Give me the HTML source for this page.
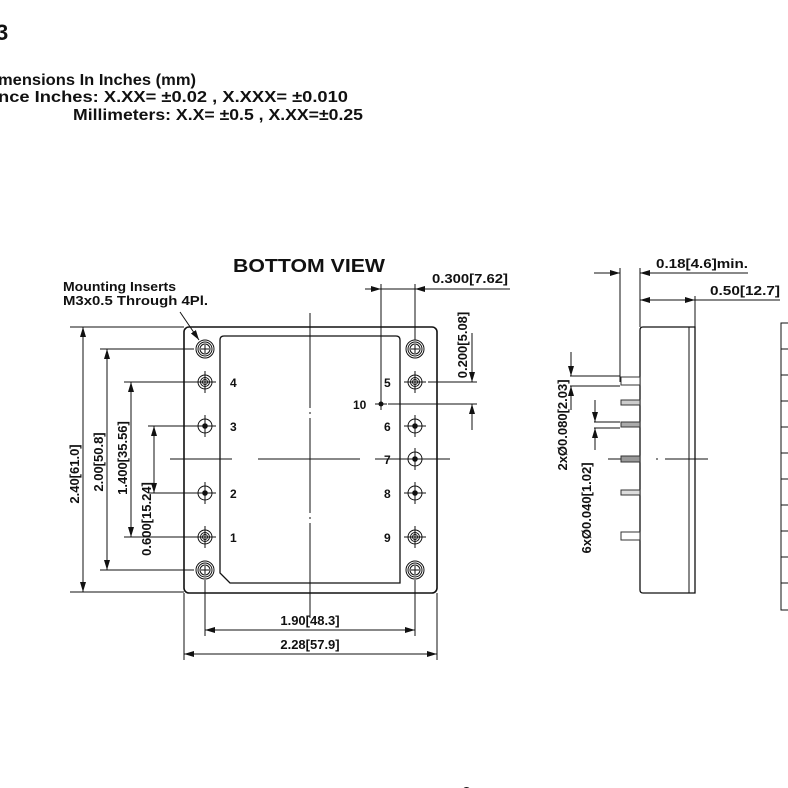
<!DOCTYPE html>
<html><head><meta charset="utf-8"><style>
html,body{margin:0;padding:0;background:#fff;width:788px;height:788px;overflow:hidden}
svg{display:block}
text{font-family:"Liberation Sans",Arial,sans-serif;font-weight:bold;fill:#111}
</style></head><body>
<svg width="788" height="788" viewBox="0 0 788 788" xmlns="http://www.w3.org/2000/svg">
<defs>
<marker id="a" viewBox="0 0 10 6" refX="10" refY="3" markerWidth="10" markerHeight="6" markerUnits="userSpaceOnUse" orient="auto-start-reverse"><path d="M0,0 L10,3 L0,6 z" fill="#111"/></marker>
<g id="ins" stroke="#111" fill="none" stroke-width="1"><circle r="9"/><circle r="7"/><circle r="5"/><line x1="-4" y1="0" x2="4" y2="0"/><line x1="0" y1="-4" x2="0" y2="4"/></g>
<g id="big" stroke="#111" fill="none" stroke-width="1"><circle r="7"/><circle r="4.5"/><circle r="2.5"/><line x1="-11" y1="0" x2="11" y2="0"/><line x1="0" y1="-11" x2="0" y2="11"/></g>
<g id="sm" stroke="#111" fill="none" stroke-width="1"><circle r="7"/><circle r="2.3" fill="#111"/><line x1="-11" y1="0" x2="11" y2="0"/><line x1="0" y1="-11" x2="0" y2="11"/></g>
</defs>
<text x="-4" y="40" font-size="22">3</text>
<text x="-2" y="85" font-size="16" textLength="198" lengthAdjust="spacingAndGlyphs">mensions In Inches (mm)</text>
<text x="-2" y="102" font-size="16" textLength="350" lengthAdjust="spacingAndGlyphs">nce  Inches: X.XX= ±0.02 , X.XXX= ±0.010</text>
<text x="73" y="120" font-size="16" textLength="290" lengthAdjust="spacingAndGlyphs">Millimeters: X.X= ±0.5 , X.XX=±0.25</text>

<text x="233" y="272" font-size="18" textLength="152" lengthAdjust="spacingAndGlyphs">BOTTOM VIEW</text>
<text x="63" y="291" font-size="13" textLength="113" lengthAdjust="spacingAndGlyphs">Mounting Inserts</text>
<text x="63" y="305" font-size="13" textLength="145" lengthAdjust="spacingAndGlyphs">M3x0.5 Through 4Pl.</text>
<line x1="180" y1="312" x2="199" y2="340" stroke="#111" stroke-width="1" marker-end="url(#a)"/>

<g stroke="#111" fill="none" stroke-width="1">
<rect x="184" y="327" width="253" height="266" rx="5" stroke-width="1.6"/>
<path d="M224,336 H396 Q400,336 400,340 V583 H230 L220,573 V340 Q220,336 224,336 Z" stroke-width="1.3"/>
<line x1="310" y1="313" x2="310" y2="620" stroke-dasharray="95,4,2,4"/>
<line x1="170" y1="459" x2="232" y2="459"/><line x1="258" y1="459" x2="360" y2="459"/><line x1="375" y1="459" x2="450" y2="459"/>
<line x1="70" y1="327" x2="184" y2="327"/>
<line x1="70" y1="592" x2="184" y2="592"/>
<line x1="100" y1="349" x2="194" y2="349"/>
<line x1="100" y1="570" x2="194" y2="570"/>
<line x1="124" y1="382" x2="194" y2="382"/>
<line x1="124" y1="537" x2="194" y2="537"/>
<line x1="148" y1="426" x2="194" y2="426"/>
<line x1="148" y1="493" x2="194" y2="493"/>
<line x1="83" y1="327" x2="83" y2="592" marker-start="url(#a)" marker-end="url(#a)"/>
<line x1="107" y1="349" x2="107" y2="570" marker-start="url(#a)" marker-end="url(#a)"/>
<line x1="131" y1="382" x2="131" y2="537" marker-start="url(#a)" marker-end="url(#a)"/>
<line x1="154" y1="426" x2="154" y2="493" marker-start="url(#a)" marker-end="url(#a)"/>
<line x1="205" y1="580" x2="205" y2="636"/>
<line x1="415" y1="580" x2="415" y2="636"/>
<line x1="184" y1="593" x2="184" y2="660"/>
<line x1="437" y1="593" x2="437" y2="660"/>
<line x1="205" y1="630" x2="415" y2="630" marker-start="url(#a)" marker-end="url(#a)"/>
<line x1="184" y1="654" x2="437" y2="654" marker-start="url(#a)" marker-end="url(#a)"/>
<line x1="381" y1="284" x2="381" y2="410"/>
<line x1="415" y1="284" x2="415" y2="340"/>
<line x1="365" y1="289" x2="381" y2="289" marker-end="url(#a)"/>
<line x1="431" y1="289" x2="415" y2="289" marker-end="url(#a)"/>
<line x1="381" y1="289" x2="510" y2="289"/>
<line x1="428" y1="382" x2="477" y2="382"/>
<line x1="388" y1="404" x2="477" y2="404"/>
<line x1="472" y1="333" x2="472" y2="382" marker-end="url(#a)"/>
<line x1="472" y1="430" x2="472" y2="404" marker-end="url(#a)"/>
</g>

<use href="#ins" x="205" y="349"/><use href="#ins" x="205" y="570"/>
<use href="#ins" x="415" y="349"/><use href="#ins" x="415" y="570"/>
<use href="#big" x="205" y="382"/><use href="#big" x="205" y="537"/>
<use href="#big" x="415" y="382"/><use href="#big" x="415" y="537"/>
<use href="#sm" x="205" y="426"/><use href="#sm" x="205" y="493"/>
<use href="#sm" x="415" y="426"/><use href="#sm" x="415" y="459"/><use href="#sm" x="415" y="493"/>
<circle cx="381" cy="404" r="2.5" fill="#111"/><line x1="375" y1="404" x2="387" y2="404" stroke="#111"/>

<g font-size="12">
<text x="230" y="387">4</text><text x="230" y="431">3</text><text x="230" y="498">2</text><text x="230" y="542">1</text>
<text x="384" y="387">5</text><text x="384" y="431">6</text><text x="384" y="464">7</text><text x="384" y="498">8</text><text x="384" y="542">9</text>
<text x="353" y="409">10</text>
</g>
<g font-size="13">
<text x="310" y="625" text-anchor="middle">1.90[48.3]</text>
<text x="310" y="649" text-anchor="middle">2.28[57.9]</text>
<text x="432" y="283" textLength="76" lengthAdjust="spacingAndGlyphs">0.300[7.62]</text>
<text transform="translate(467,345) rotate(-90)" text-anchor="middle">0.200[5.08]</text>
<text transform="translate(79,474) rotate(-90)" text-anchor="middle">2.40[61.0]</text>
<text transform="translate(103,462) rotate(-90)" text-anchor="middle">2.00[50.8]</text>
<text transform="translate(127,458) rotate(-90)" text-anchor="middle">1.400[35.56]</text>
<text transform="translate(151,519) rotate(-90)" text-anchor="middle">0.600[15.24]</text>
</g>

<g stroke="#111" fill="none" stroke-width="1">
<path d="M643,327 H695 V593 H643 Q640,593 640,590 V330 Q640,327 643,327 Z" stroke-width="1.3"/>
<line x1="689" y1="327" x2="689" y2="593"/>
<line x1="640" y1="268" x2="640" y2="327"/>
<line x1="695" y1="296" x2="695" y2="327"/>
<line x1="620" y1="268" x2="620" y2="382"/>
<line x1="594" y1="273" x2="620" y2="273" marker-end="url(#a)"/>
<line x1="660" y1="273" x2="640" y2="273" marker-end="url(#a)"/>
<line x1="640" y1="273" x2="748" y2="273"/>
<line x1="640" y1="300" x2="695" y2="300" marker-start="url(#a)" marker-end="url(#a)"/>
<line x1="695" y1="300" x2="780" y2="300"/>
<line x1="608" y1="459" x2="630" y2="459"/><line x1="656" y1="459" x2="658" y2="459"/><line x1="665" y1="459" x2="708" y2="459"/>
<line x1="570" y1="376" x2="620" y2="376"/><line x1="570" y1="386" x2="620" y2="386"/>
<line x1="571" y1="352" x2="571" y2="376" marker-end="url(#a)"/>
<line x1="571" y1="410" x2="571" y2="386" marker-end="url(#a)"/>
<line x1="594" y1="422" x2="620" y2="422"/><line x1="594" y1="428" x2="620" y2="428"/>
<line x1="595" y1="400" x2="595" y2="422" marker-end="url(#a)"/>
<line x1="595" y1="450" x2="595" y2="428" marker-end="url(#a)"/>
<path d="M788,323 H781 V610 H788"/>
<line x1="781" y1="349" x2="788" y2="349"/><line x1="781" y1="375" x2="788" y2="375"/><line x1="781" y1="401" x2="788" y2="401"/><line x1="781" y1="427" x2="788" y2="427"/><line x1="781" y1="453" x2="788" y2="453"/><line x1="781" y1="479" x2="788" y2="479"/><line x1="781" y1="505" x2="788" y2="505"/><line x1="781" y1="531" x2="788" y2="531"/><line x1="781" y1="557" x2="788" y2="557"/><line x1="781" y1="583" x2="788" y2="583"/>
</g>
<g fill="#fff" stroke="#333" stroke-width="1">
<rect x="621" y="377" width="19" height="8"/>
<rect x="621" y="400" width="19" height="5" fill="#ccc"/>
<rect x="621" y="422" width="19" height="5" fill="#aaa"/>
<rect x="621" y="456" width="19" height="6" fill="#999"/>
<rect x="621" y="490" width="19" height="5" fill="#ddd"/>
<rect x="621" y="532" width="19" height="8"/>
</g>
<g font-size="13">
<text x="656" y="268" textLength="92" lengthAdjust="spacingAndGlyphs">0.18[4.6]min.</text>
<text x="710" y="295" textLength="70" lengthAdjust="spacingAndGlyphs">0.50[12.7]</text>
<text transform="translate(567,425) rotate(-90)" text-anchor="middle">2xØ0.080[2.03]</text>
<text transform="translate(591,508) rotate(-90)" text-anchor="middle">6xØ0.040[1.02]</text>
</g>
<text x="462" y="798" font-size="16" style="font-weight:normal">2</text>
</svg>
</body></html>
